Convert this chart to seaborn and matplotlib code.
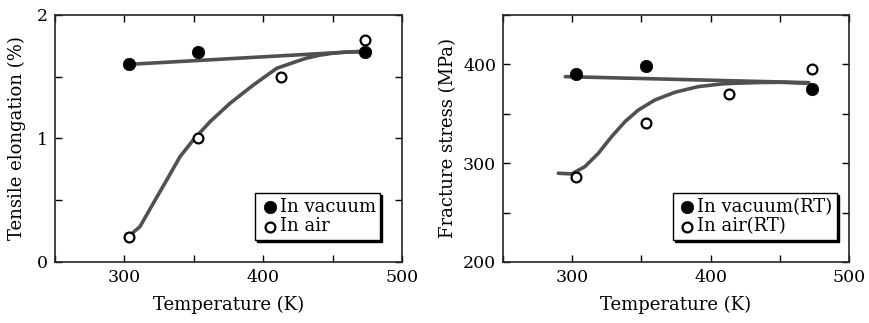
import numpy as np
import pandas as pd
import matplotlib
matplotlib.use('Agg')
import matplotlib.pyplot as plt
from matplotlib.ticker import MultipleLocator
import seaborn as sns

# --- data ---
# left panel: tensile elongation (%)
elong_vac_T = [303, 353, 473]
elong_vac = [1.60, 1.70, 1.70]
elong_air_T = [303, 353, 413, 473]
elong_air = [0.20, 1.00, 1.50, 1.80]
# fitted lines
elong_vac_fit_T = [303, 477]
elong_vac_fit = [1.60, 1.71]
elong_air_fit_T = [302.8, 311.2, 320.8, 330.5, 340.1, 349.6, 361.7, 376.1,
                   392.9, 409.7, 421.7, 431, 441, 450, 460, 474.6]
elong_air_fit = [0.205, 0.286, 0.475, 0.664, 0.853, 0.988, 1.136, 1.285,
                 1.433, 1.568, 1.615, 1.65, 1.675, 1.69, 1.70, 1.70]

# right panel: fracture stress (MPa)
stress_vac_T = [303, 353, 473]
stress_vac = [390, 398, 375]
stress_air_T = [303, 353, 413, 473]
stress_air = [286, 341, 370, 395]
stress_vac_fit_T = [295, 471]
stress_vac_fit = [387.6, 381.5]
stress_air_fit_T = [290, 299.6, 309.2, 318.9, 328.5, 338.2, 347.8, 359.8,
                    374.3, 391.1, 408.0, 417.6, 435, 450, 469]
stress_air_fit = [289.8, 289.1, 296.5, 310.0, 326.9, 342.1, 353.8, 364.0,
                  371.8, 377.5, 380.2, 380.9, 381.6, 381.9, 380.9]

sns.set_style('ticks')
plt.rcParams['font.family'] = ['DejaVu Serif']
plt.rcParams['axes.linewidth'] = 1.2
plt.rcParams['text.color'] = 'black'
plt.rcParams['axes.labelcolor'] = 'black'
plt.rcParams['xtick.color'] = 'black'
plt.rcParams['ytick.color'] = 'black'

line_col = '#505050'

fig = plt.figure(figsize=(8.69, 3.23), dpi=100)
ax1 = fig.add_axes([0.0633, 0.189, 0.3993, 0.7646])
ax2 = fig.add_axes([0.5788, 0.189, 0.3982, 0.7646])


def panel(ax, vT, v, aT, a, vfT, vf, afT, af, labels, legend_x):
    sns.lineplot(x=vfT, y=vf, ax=ax, color=line_col, lw=2.6, sort=False)
    sns.lineplot(x=afT, y=af, ax=ax, color=line_col, lw=2.6, sort=False)
    sns.scatterplot(x=vT, y=v, ax=ax, color='black', s=80, edgecolor='black',
                    linewidth=0.5, label=labels[0], zorder=5)
    sns.scatterplot(x=aT, y=a, ax=ax, facecolor='white', s=50, edgecolor='black',
                    linewidth=1.6, label=labels[1], zorder=5)
    ax.set_xlim(250, 500)
    ax.xaxis.set_major_locator(MultipleLocator(100))
    ax.xaxis.set_minor_locator(MultipleLocator(50))
    ax.set_xlabel('Temperature (K)', fontsize=13, labelpad=7)
    ax.tick_params(which='both', direction='in', top=True, right=True,
                   length=5, width=1.0, labelsize=12.5, pad=5)
    leg = ax.legend(loc='lower right', bbox_to_anchor=(legend_x, 0.089),
                    borderaxespad=0, fancybox=False, frameon=True,
                    edgecolor='black', framealpha=1,
                    shadow={'color': 'black', 'alpha': 1, 'ox': 1.5, 'oy': -1.5},
                    handletextpad=0.0, borderpad=0.25, labelspacing=0.1,
                    handlelength=1.1, fontsize=13)
    leg.get_frame().set_linewidth(1.0)


panel(ax1, elong_vac_T, elong_vac, elong_air_T, elong_air,
      elong_vac_fit_T, elong_vac_fit, elong_air_fit_T, elong_air_fit,
      ['In vacuum', 'In air'], 0.937)
ax1.set_ylim(0, 2)
ax1.yaxis.set_major_locator(MultipleLocator(1))
ax1.yaxis.set_minor_locator(MultipleLocator(0.5))
ax1.set_ylabel('Tensile elongation (%)', fontsize=13, labelpad=8)

panel(ax2, stress_vac_T, stress_vac, stress_air_T, stress_air,
      stress_vac_fit_T, stress_vac_fit, stress_air_fit_T, stress_air_fit,
      ['In vacuum(RT)', 'In air(RT)'], 0.965)
ax2.set_ylim(200, 450)
ax2.yaxis.set_major_locator(MultipleLocator(100))
ax2.yaxis.set_minor_locator(MultipleLocator(50))
ax2.set_ylabel('Fracture stress (MPa)', fontsize=13, labelpad=4)

fig.savefig('out.png', dpi=100)
